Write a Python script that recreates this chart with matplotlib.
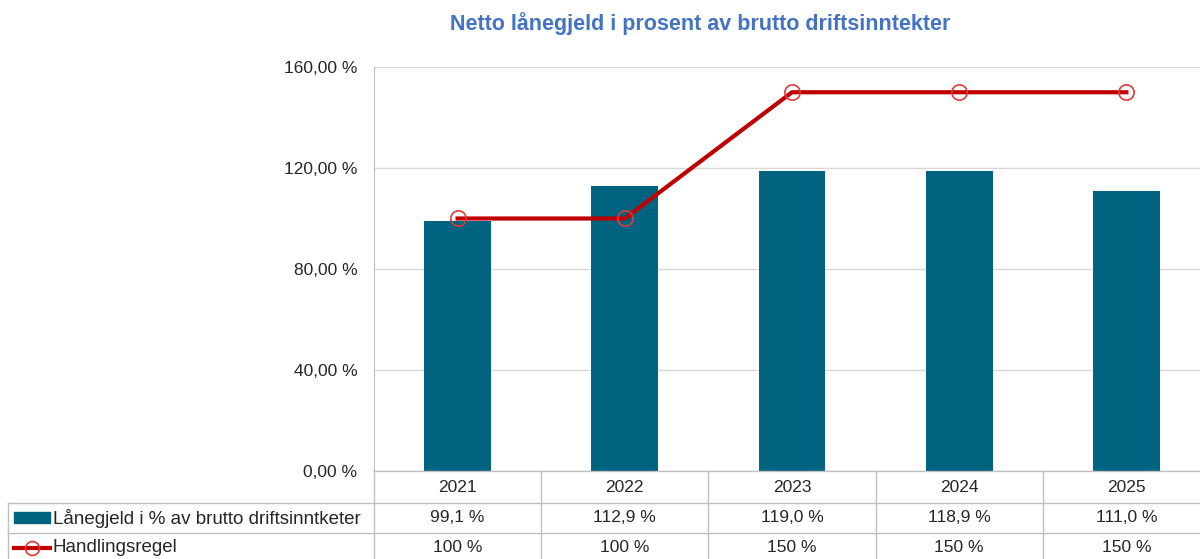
import matplotlib
matplotlib.use("Agg")
import matplotlib.pyplot as plt
from matplotlib.lines import Line2D
from matplotlib.patches import Rectangle

plt.rcParams['font.family'] = ['Liberation Sans', 'DejaVu Sans']

# data
years = ['2021', '2022', '2023', '2024', '2025']
gjeld = [99.1, 112.9, 119.0, 118.9, 111.0]
regel = [100, 100, 150, 150, 150]
gjeld_lbl = ['99,1 %', '112,9 %', '119,0 %', '118,9 %', '111,0 %']
regel_lbl = ['100 %', '100 %', '150 %', '150 %', '150 %']
yticks = [0, 40, 80, 120, 160]

bar_col = '#00637F'
line_col = '#C00000'
grid_col = '#D9D9D9'
tab_col = '#BFBFBF'
txt_col = '#262626'

W, H = 1200, 559
fig = plt.figure(figsize=(12, 5.59), dpi=100)

def fx(x):
    return x / W

def fy(y):
    return 1 - y / H

# plot area in pixels (right edge goes past the image like in the original)
L, R, T, B = 374, 1210, 67, 471
ax = fig.add_axes([fx(L), fy(B), (R - L) / W, (B - T) / H])

x = list(range(len(years)))
ax.bar(x, gjeld, width=0.4, color=bar_col, zorder=2)
ax.plot(x, regel, color=line_col, lw=3, marker='o', ms=11, mfc='none',
        mec='#E03A3A', mew=1.2, zorder=3)

ax.set_xlim(-0.5, len(years) - 0.5)
ax.set_ylim(0, 160)
ax.set_yticks(yticks)
ax.set_yticklabels([('%.2f' % v).replace('.', ',') + ' %' for v in yticks])
ax.set_xticks([])
ax.tick_params(axis='y', length=0, pad=12, labelsize=12.5, colors=txt_col)
ax.grid(axis='y', color=grid_col, lw=1, zorder=0)
for s in ['top', 'right', 'bottom']:
    ax.spines[s].set_visible(False)
ax.spines['left'].set_color(tab_col)

fig.text(fx(700), fy(24), 'Netto lånegjeld i prosent av brutto driftsinntekter',
         ha='center', va='center', fontsize=15.5, fontweight='bold', color='#4472C4')

# data table under the plot
def hline(y, x0, x1):
    fig.add_artist(Line2D([fx(x0), fx(x1)], [fy(y), fy(y)], color=tab_col, lw=1))

def vline(xp, y0, y1):
    fig.add_artist(Line2D([fx(xp), fx(xp)], [fy(y0), fy(y1)], color=tab_col, lw=1))

row1, row2, row3 = 471, 503, 533
hline(row1, L, W)
hline(row2, 8, W)
hline(row3, 8, W)
vline(8, row2, H)
vline(L, row1, H)

colw = (R - L) / len(years)
for i in range(1, len(years)):
    vline(L + i * colw, row1, H)

tfs = 12.5
for i, yr in enumerate(years):
    cx = fx(L + (i + 0.5) * colw)
    fig.text(cx, fy(488), yr, ha='center', va='center', fontsize=tfs, color=txt_col)
    fig.text(cx, fy(518), gjeld_lbl[i], ha='center', va='center', fontsize=tfs, color=txt_col)
    fig.text(cx, fy(548), regel_lbl[i], ha='center', va='center', fontsize=tfs, color=txt_col)

# legend keys
fig.add_artist(Rectangle((fx(14), fy(523)), fx(36), 11 / H, color=bar_col,
                         transform=fig.transFigure))
fig.text(fx(53), fy(518), 'Lånegjeld i % av brutto driftsinntketer', ha='left', va='center',
         fontsize=13.5, color=txt_col)
fig.add_artist(Line2D([fx(14), fx(50)], [fy(548), fy(548)], color=line_col, lw=3))
fig.add_artist(Line2D([fx(32)], [fy(548)], marker='o', ms=10, mfc='none',
                      mec='#E03A3A', mew=1.2, lw=0))
fig.text(fx(53), fy(548), 'Handlingsregel', ha='left', va='center',
         fontsize=13.5, color=txt_col)

fig.savefig('out.png', dpi=100)
